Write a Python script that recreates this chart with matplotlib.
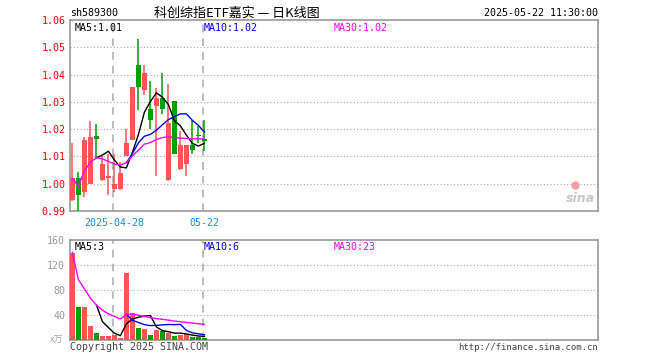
import matplotlib
matplotlib.use("Agg")
import matplotlib.pyplot as plt
from matplotlib.patches import Rectangle

plt.rcParams['font.family'] = ['DejaVu Sans Mono', 'Noto Sans CJK SC']

# daily k-line, 2025-04-17 .. 2025-05-22
opens = [0.994, 1.002, 0.997, 1.000, 1.0174, 1.0014, 1.002, 0.998, 0.998, 1.010,
         1.016, 1.0436, 1.0345, 1.0274, 1.0286, 1.0314, 1.0012, 1.0303, 1.0054,
         1.0071, 1.0141, 1.0180, 1.0165]
highs = [1.015, 1.0043, 1.017, 1.023, 1.022, 1.010, 1.011, 1.011, 1.008, 1.020,
         1.0355, 1.053, 1.0436, 1.0375, 1.035, 1.0405, 1.0366, 1.0303, 1.0194,
         1.0141, 1.0235, 1.021, 1.0235]
lows = [0.9935, 0.990, 0.995, 1.000, 1.0096, 1.001, 0.996, 0.997, 0.9977, 1.010,
        1.016, 1.027, 1.0326, 1.020, 1.003, 1.0256, 1.001, 1.0108, 1.005,
        1.0028, 1.011, 1.015, 1.012]
closes = [1.002, 0.996, 1.016, 1.017, 1.0165, 1.0071, 1.003, 1.000, 1.004, 1.015,
          1.0355, 1.0356, 1.0407, 1.0235, 1.0314, 1.0274, 1.0222, 1.011, 1.0141,
          1.0141, 1.0124, 1.0176, 1.0157]

# price moving averages (MA5 from day 5, MA10 from day 10)
ma5_start = 4
ma5 = [1.0095, 1.0105, 1.0119, 1.0087, 1.0061, 1.0058, 1.0115, 1.0180, 1.0262,
       1.0301, 1.0333, 1.0317, 1.0290, 1.0231, 1.0212, 1.0178, 1.0148, 1.0138, 1.0148]
ma10_start = 9
ma10 = [1.0077, 1.0110, 1.0150, 1.0174, 1.0181, 1.0196, 1.0216, 1.0235, 1.0246,
        1.0256, 1.0256, 1.0232, 1.0214, 1.0189]
ma30 = [1.002, 0.999, 1.0047, 1.0078, 1.0095, 1.0091, 1.0082, 1.0072, 1.0068, 1.0077,
        1.0102, 1.0123, 1.0145, 1.0151, 1.0162, 1.0169, 1.0172, 1.0169, 1.0167,
        1.0166, 1.0164, 1.0165, 1.0164]

# volume (x万)
volume = [140, 53, 53, 23, 12, 5.8, 5.8, 7.9, 3.2, 107, 43.7, 20, 17.4, 7.4, 15.8,
          14.2, 11.6, 5.8, 7.4, 9.5, 4.7, 4.7, 3.2]
vma5 = [56.2, 29.4, 19.9, 10.9, 6.9, 25.9, 33.5, 36.4, 38.3, 39.1, 20.9, 15.0,
        13.3, 11.0, 11.0, 9.7, 7.8, 6.4, 5.9]
vma10 = [41.1, 31.4, 28.1, 24.6, 23.0, 23.4, 24.2, 24.8, 24.6, 25.0, 15.3, 11.4,
         9.9, 8.4]
vma30 = [140, 96.5, 82, 67, 56, 47.8, 41.8, 37.6, 33.7, 41.1, 41.3, 39.5, 37.8,
         35.7, 34.3, 33.1, 31.8, 30.4, 29.2, 28.2, 27.1, 26.0, 25.0]

date_ticks = [7, 22]
date_labels = ['2025-04-28', '05-22']
price_ticks = [0.99, 1.00, 1.01, 1.02, 1.03, 1.04, 1.05, 1.06]
vol_ticks = [40, 80, 120, 160]

RED = '#ff5555'
GREEN = '#00a000'
GRID = '#aaaaaa'
BORDER = '#999999'

fig = plt.figure(figsize=(6.6, 3.6), dpi=100)
ax = fig.add_axes([70 / 660, 1 - 211 / 360, 528 / 660, 191 / 360])
axv = fig.add_axes([70 / 660, 1 - 340 / 360, 528 / 660, 100 / 360])

n = len(closes)
xs = list(range(n))
for a in (ax, axv):
    a.set_xlim(-0.4, 87.6)
    for s in a.spines.values():
        s.set_color(BORDER)
        s.set_linewidth(1.2)
    a.set_xticks([])
    a.tick_params(length=0)
    for d in date_ticks:
        a.axvline(d - 0.25, color='#aaaaaa', lw=1.1, ls=(0, (5, 4)), zorder=1)

# candles
for i in xs:
    up = closes[i] >= opens[i]
    col = RED if up else GREEN
    ax.vlines(i, lows[i], highs[i], color=col, lw=1.1, zorder=3)
    lo = min(opens[i], closes[i])
    h = max(abs(closes[i] - opens[i]), 0.0004)
    ax.add_patch(Rectangle((i - 0.42, lo), 0.84, h, color=col, lw=0, zorder=4))

ax.plot(xs[ma5_start:], ma5, color='black', lw=1.0, zorder=5)
ax.plot(xs[ma10_start:], ma10, color='#0000ee', lw=1.0, zorder=5)
ax.plot(xs, ma30, color='#ff00ff', lw=1.0, zorder=5)

ax.set_ylim(0.99, 1.06)
ax.set_yticks(price_ticks)
ax.set_yticklabels(['%.2f' % p for p in price_ticks], color='red', fontsize=7.2)
for p in price_ticks[1:-1]:
    ax.axhline(p, color=GRID, lw=0.8, ls=(0, (1, 2)), zorder=0)
ax.tick_params(axis='y', pad=3)

for d, lab in zip(date_ticks, date_labels):
    ax.text(d, -0.035, lab, transform=ax.get_xaxis_transform(), ha='center',
            va='top', color='#1a8fe0', fontsize=7.2)

ax.text(0.008, 0.985, 'MA5:1.01', transform=ax.transAxes, va='top', fontsize=7.2,
        color='black')
ax.text(0.253, 0.985, 'MA10:1.02', transform=ax.transAxes, va='top', fontsize=7.2,
        color='#0000ee')
ax.text(0.5, 0.985, 'MA30:1.02', transform=ax.transAxes, va='top', fontsize=7.2,
        color='#ff00ff')

# sina mark
ax.text(0.995, 0.03, 'sina', transform=ax.transAxes, ha='right', va='bottom',
        fontsize=9, style='italic', weight='bold', color='#c8c8c8',
        family='DejaVu Sans')
ax.plot([0.957], [0.135], 'o', transform=ax.transAxes, ms=5, color='#f5a0a0',
        zorder=6)

# volume
vcols = [RED if closes[i] >= opens[i] else GREEN for i in xs]
axv.bar(xs, volume, width=0.84, color=vcols, zorder=3)
axv.plot(xs[ma5_start:], vma5, color='black', lw=1.0, zorder=5)
axv.plot(xs[ma10_start:], vma10, color='#0000ee', lw=1.0, zorder=5)
axv.plot(xs, vma30, color='#ff00ff', lw=1.0, zorder=5)
axv.set_ylim(0, 160)
axv.set_yticks(vol_ticks)
axv.set_yticklabels([str(v) for v in vol_ticks], color='#999999', fontsize=7.2)
for v in vol_ticks[:-1]:
    axv.axhline(v, color=GRID, lw=0.8, ls=(0, (1, 2)), zorder=0)
axv.text(-0.012, 0.0, 'x万', transform=axv.transAxes, ha='right', va='center',
         fontsize=6.5, color='#aaaaaa', family=['Noto Sans CJK SC'])

axv.text(0.008, 0.98, 'MA5:3', transform=axv.transAxes, va='top', fontsize=7.2,
         color='black')
axv.text(0.253, 0.98, 'MA10:6', transform=axv.transAxes, va='top', fontsize=7.2,
         color='#0000ee')
axv.text(0.5, 0.98, 'MA30:23', transform=axv.transAxes, va='top', fontsize=7.2,
         color='#ff00ff')

# header / footer
fig.text(70 / 660, 1 - 13 / 360, 'sh589300', va='center', fontsize=7.2)
fig.text(237 / 660, 1 - 13 / 360, '科创综指ETF嘉实 — 日K线图', ha='center', va='center',
         fontsize=9.4, family=['Noto Sans CJK SC', 'DejaVu Sans'])
fig.text(598 / 660, 1 - 13 / 360, '2025-05-22 11:30:00', ha='right', va='center',
         fontsize=7.2)
fig.text(70 / 660, 1 - 347 / 360, 'Copyright 2025 SINA.COM', va='center',
         fontsize=7.2, color='#444444')
fig.text(598 / 660, 1 - 347 / 360, 'http://finance.sina.com.cn', ha='right',
         va='center', fontsize=6.5, color='#444444')

fig.savefig('out.png', dpi=100)
